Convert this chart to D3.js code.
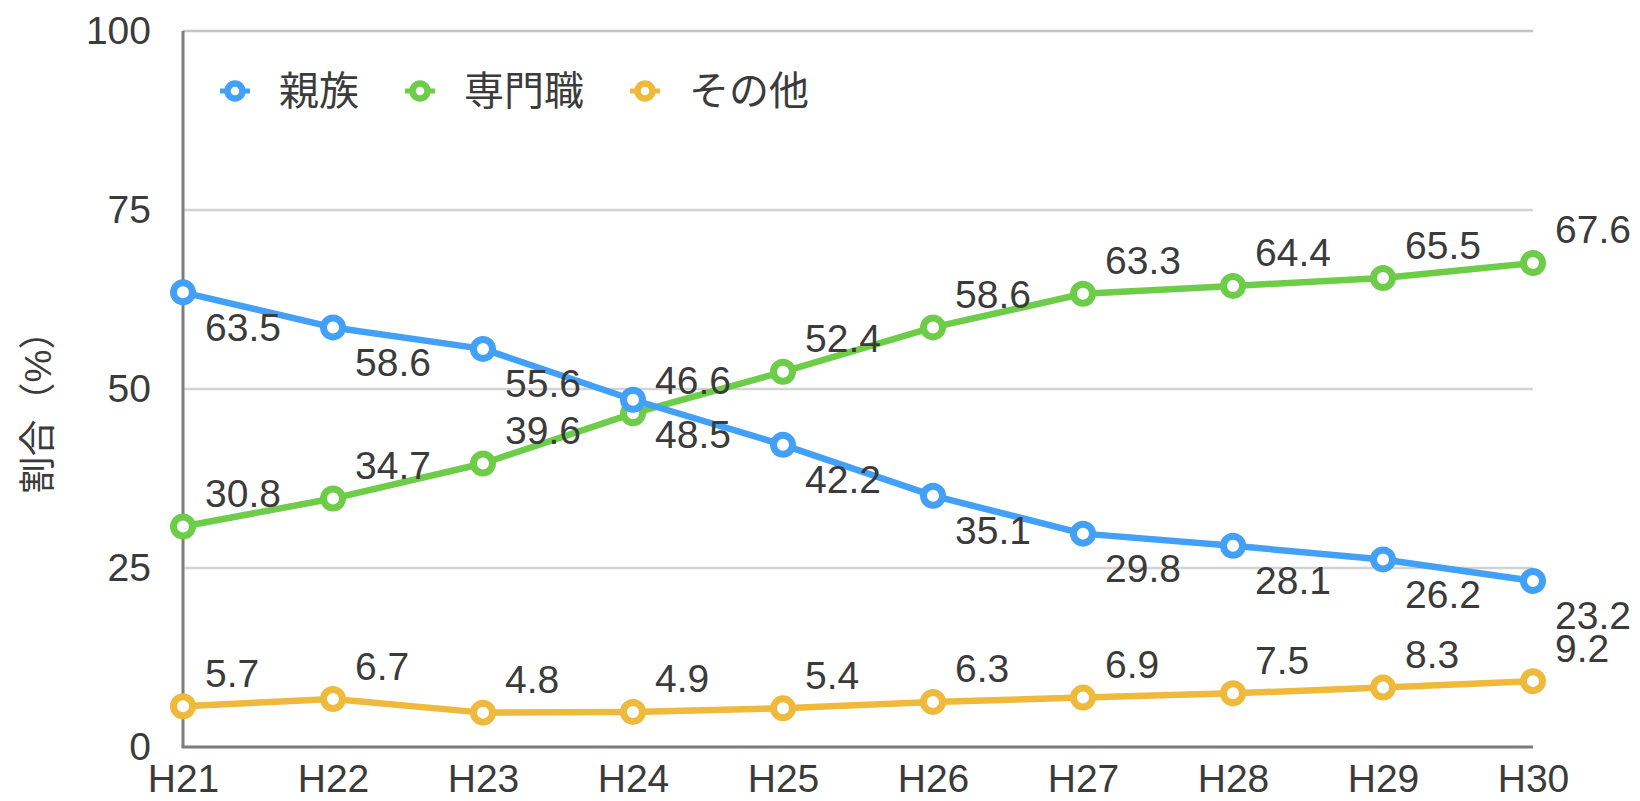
<!DOCTYPE html>
<html lang="ja">
<head>
<meta charset="UTF-8">
<title>割合の推移</title>
<style>
    body { margin: 0; background: #fff; }
    svg text { font-family: "Liberation Sans", "Noto Sans CJK JP", sans-serif; fill: #3b3b3b; }
</style>
</head>
<body>
<script src="https://d3js.org/d3.v7.min.js"></script>
<script>
    // data
    const years = ['H21', 'H22', 'H23', 'H24', 'H25', 'H26', 'H27', 'H28', 'H29', 'H30'];
    const shinzoku = [63.5, 58.6, 55.6, 48.5, 42.2, 35.1, 29.8, 28.1, 26.2, 23.2];
    const senmonshoku = [30.8, 34.7, 39.6, 46.6, 52.4, 58.6, 63.3, 64.4, 65.5, 67.6];
    const sonota = [5.7, 6.7, 4.8, 4.9, 5.4, 6.3, 6.9, 7.5, 8.3, 9.2];
    const seriesNames = ['親族', '専門職', 'その他'];
    const yTicks = [0, 25, 50, 75, 100];
    const yTitle = '割合（%）';

    const colors = ['#42a0f6', '#6dcc48', '#efb93b'];
    const series = [shinzoku, senmonshoku, sonota].map((v, k) => ({
        name: seriesNames[k], values: v, color: colors[k], below: k === 0
    }));

    // 1. svg
    const W = 1640, H = 801;
    const m = { t: 31, b: 54, l: 183, r: 107 };

    const s = d3.select('body').append('svg')
        .attr('width', W)
        .attr('height', H);

    const x = d3.scalePoint().domain(years).range([m.l, W - m.r]);
    const y = d3.scaleLinear().domain([0, 100]).range([H - m.b, m.t]);

    // 2. grid + axes
    s.append('g')
        .selectAll('line')
        .data(yTicks.filter(d => d > 0))
        .enter().append('line')
        .attr('x1', m.l).attr('x2', W - m.r)
        .attr('y1', d => y(d)).attr('y2', d => y(d))
        .attr('stroke', d => d === 100 ? '#c4c4c4' : '#d3d3d3')
        .attr('stroke-width', 2.5);

    const yAxis = s.append('g')
        .attr('transform', `translate(${m.l},0)`)
        .call(d3.axisLeft(y).tickValues(yTicks).tickSize(0).tickPadding(32));
    yAxis.select('.domain').remove();
    yAxis.selectAll('text')
        .style('font-size', '39px')
        .attr('fill', '#3b3b3b');

    const xAxis = s.append('g')
        .attr('transform', `translate(0,${H - m.b})`)
        .call(d3.axisBottom(x).tickSize(0).tickPadding(0));
    xAxis.select('.domain').remove();
    xAxis.selectAll('text')
        .style('font-size', '39px')
        .attr('dy', null)
        .attr('y', 45)
        .attr('fill', '#3b3b3b');

    s.append('line')
        .attr('x1', m.l).attr('x2', m.l)
        .attr('y1', y(100)).attr('y2', y(0))
        .attr('stroke', '#7c7c7c').attr('stroke-width', 3);
    s.append('line')
        .attr('x1', m.l - 1.5).attr('x2', W - m.r)
        .attr('y1', y(0)).attr('y2', y(0))
        .attr('stroke', '#7c7c7c').attr('stroke-width', 3);

    s.append('text')
        .attr('transform', `translate(38,${(y(0) + y(100)) / 2 + 14}) rotate(-90)`)
        .attr('text-anchor', 'middle')
        .attr('dominant-baseline', 'central')
        .style('font-size', '37px')
        .text(yTitle);

    // 3. lines, markers (last series first so 親族 is on top)
    const line = d3.line()
        .x((d, i) => x(years[i]))
        .y(d => y(d));

    const g = s.selectAll('.series')
        .data(series.slice().reverse())
        .enter().append('g')
        .attr('class', 'series');

    g.append('path')
        .attr('d', d => line(d.values))
        .attr('fill', 'none')
        .attr('stroke', d => d.color)
        .attr('stroke-width', 6.5)
        .attr('stroke-linejoin', 'round');

    g.each(function (d) {
        d3.select(this).selectAll('circle')
            .data(d.values)
            .enter().append('circle')
            .attr('cx', (v, i) => x(years[i]))
            .attr('cy', v => y(v))
            .attr('r', 9.5)
            .attr('fill', '#fff')
            .attr('stroke', d.color)
            .attr('stroke-width', 7);
    });

    // 4. value labels
    series.forEach(d => {
        s.append('g').selectAll('text')
            .data(d.values)
            .enter().append('text')
            .attr('x', (v, i) => x(years[i]) + 22)
            .attr('y', v => y(v) + (d.below ? 35 : -33))
            .attr('dominant-baseline', 'central')
            .style('font-size', '39px')
            .text(v => v.toFixed(1));
    });

    // 5. legend
    const lg = s.append('g').attr('transform', 'translate(0,91)');
    let lx = 235;
    series.forEach(d => {
        const item = lg.append('g').attr('transform', `translate(${lx},0)`);
        item.append('line')
            .attr('x1', -15).attr('x2', 15)
            .attr('stroke', d.color).attr('stroke-width', 5);
        item.append('circle')
            .attr('r', 7.5)
            .attr('fill', '#fff')
            .attr('stroke', d.color)
            .attr('stroke-width', 6.5);
        const t = item.append('text')
            .attr('x', 44)
            .attr('dominant-baseline', 'central')
            .style('font-size', '40px')
            .text(d.name);
        lx += 44 + t.node().getComputedTextLength() + 61;
    });
</script>
</body>
</html>
